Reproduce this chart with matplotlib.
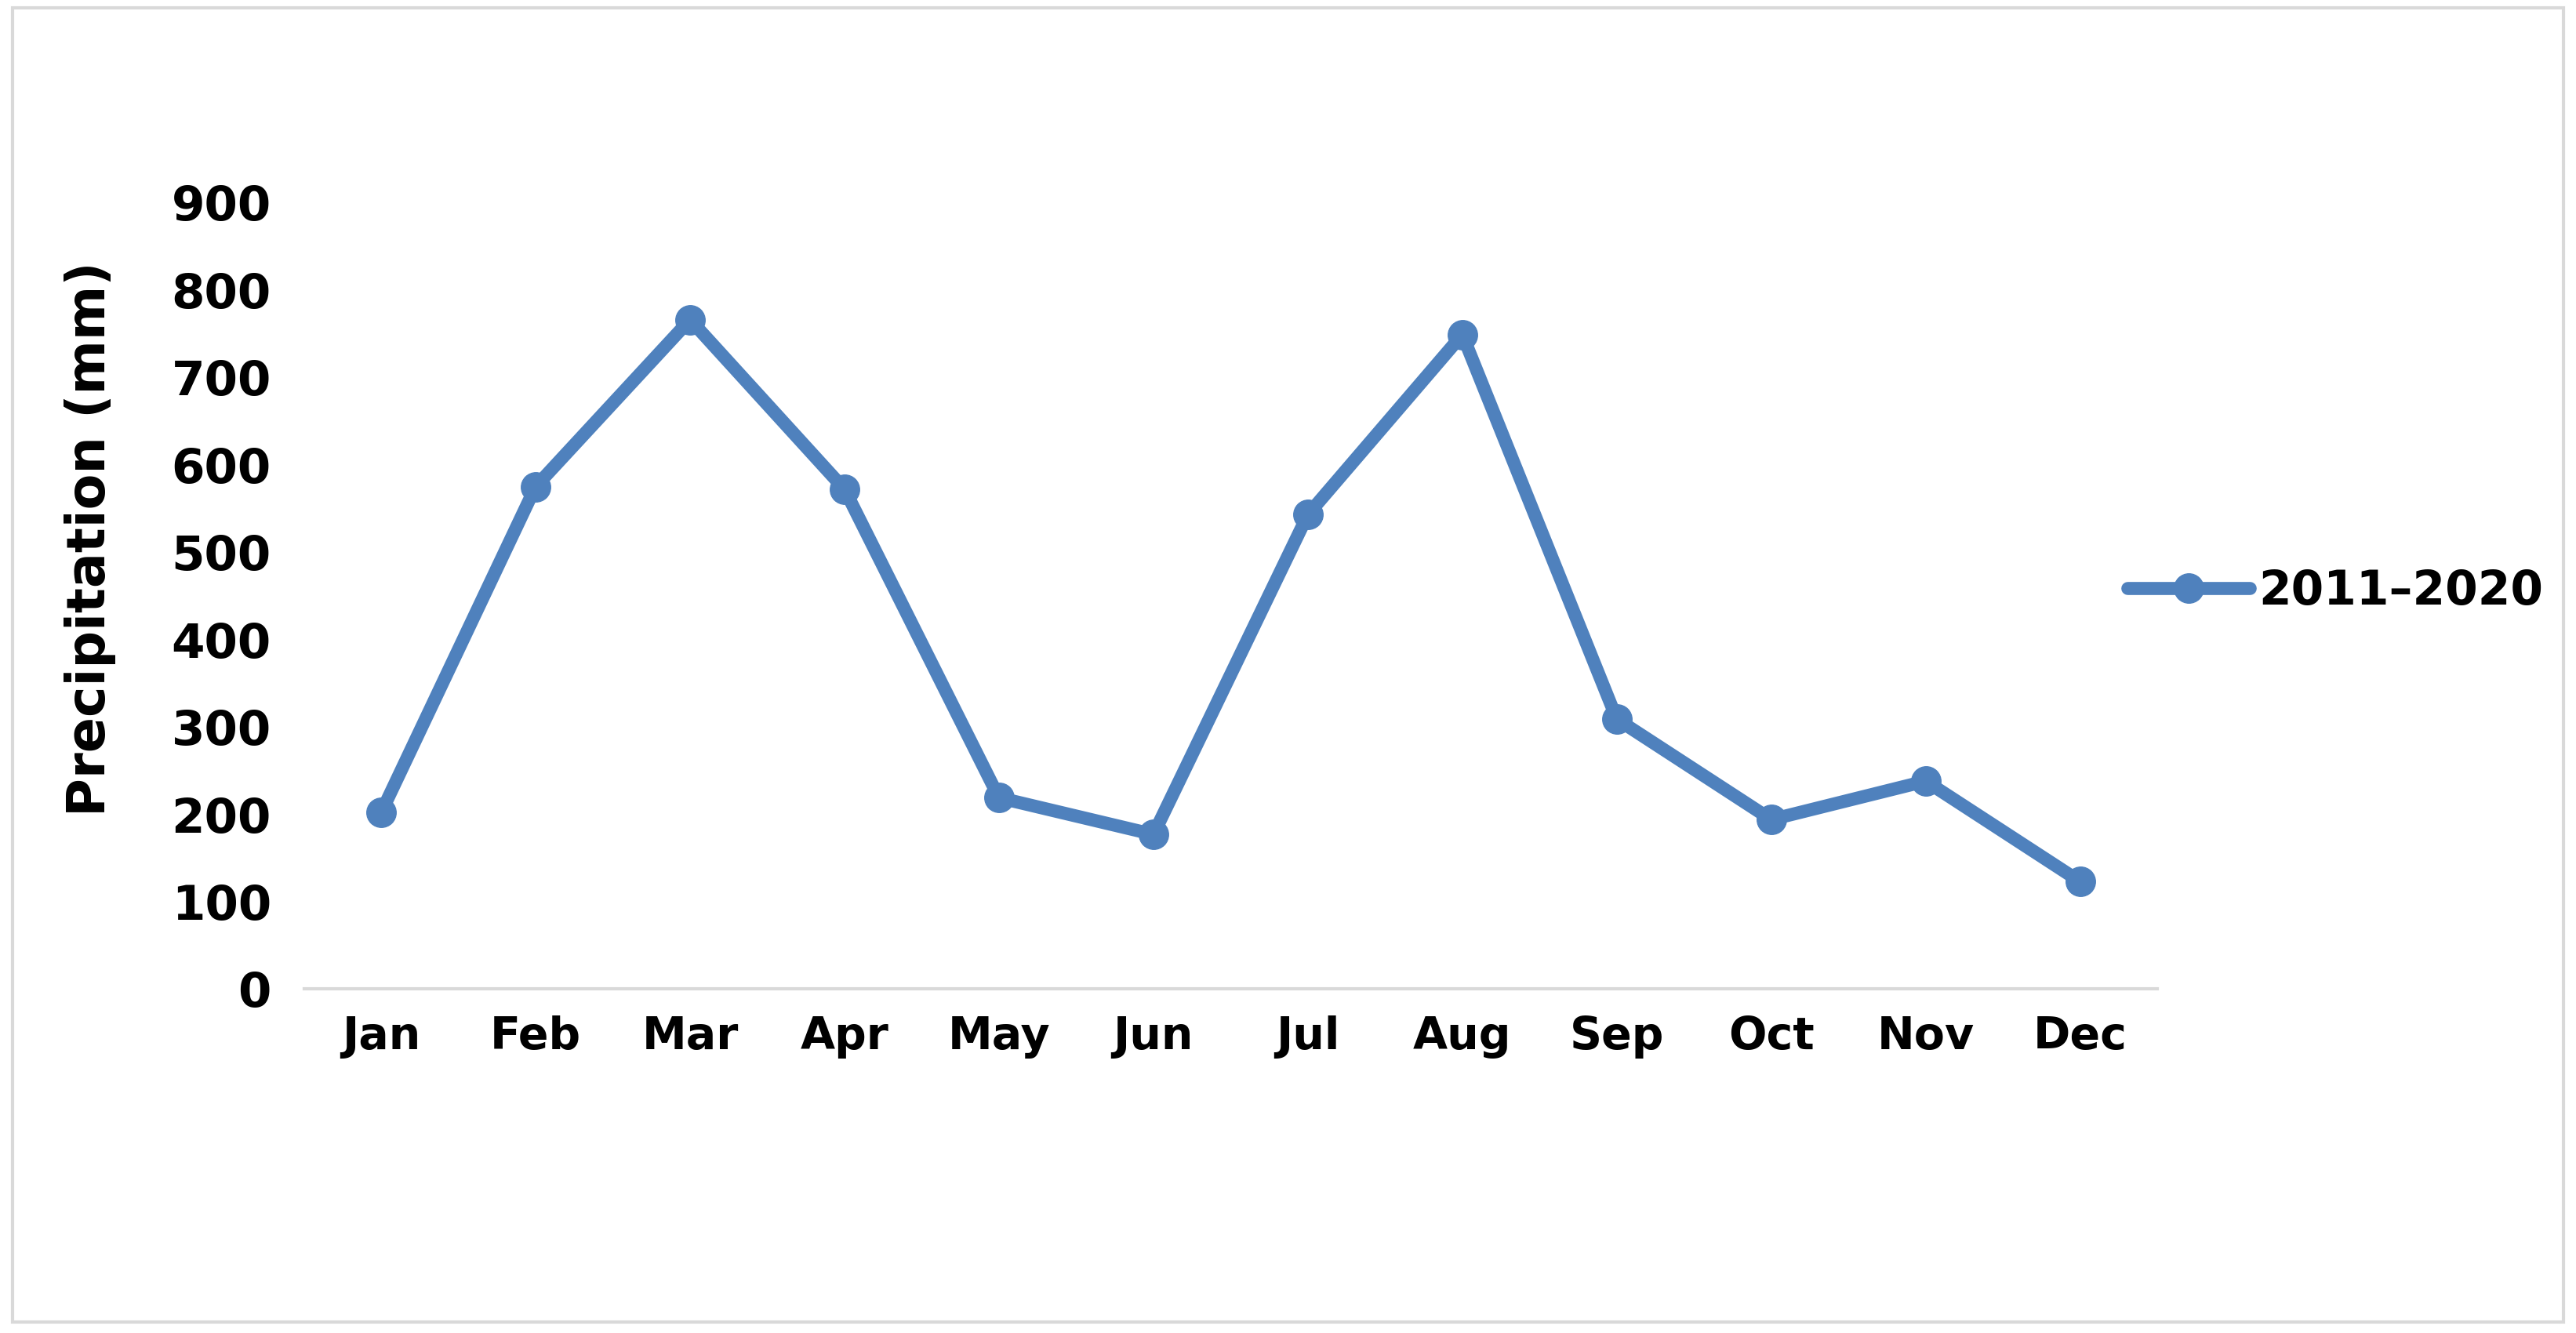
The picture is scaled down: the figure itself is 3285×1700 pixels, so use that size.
import matplotlib.pyplot as plt
from matplotlib.patches import Rectangle

months = ['Jan', 'Feb', 'Mar', 'Apr', 'May', 'Jun',
          'Jul', 'Aug', 'Sep', 'Oct', 'Nov', 'Dec']
precip = [202, 575, 766, 572, 219, 177, 543, 749, 309, 194, 238, 123]
series_name = '2011–2020'
y_ticks = [0, 100, 200, 300, 400, 500, 600, 700, 800, 900]

blue = '#4F81BD'

plt.rcParams['font.family'] = ['DejaVu Sans']
plt.rcParams['font.weight'] = 'bold'

fig = plt.figure(figsize=(32.85, 17), dpi=100)
ax = fig.add_axes([0.118, 0.258, 0.7195, 0.59])

x = list(range(len(months)))
ax.plot(x, precip, color=blue, lw=12, marker='o', ms=27,
        solid_capstyle='round', solid_joinstyle='round', label=series_name)

ax.set_xlim(-0.5, 11.5)
ax.set_ylim(0, 900)
ax.set_yticks(y_ticks)
ax.set_yticklabels([str(v) for v in y_ticks], fontsize=44, fontweight='bold')
ax.set_xticks(x)
ax.set_xticklabels(months, fontsize=41, fontweight='bold')
ax.tick_params(axis='y', length=0, pad=30)
ax.tick_params(axis='x', length=0, pad=24)

for s in ['top', 'right', 'left']:
    ax.spines[s].set_visible(False)
ax.spines['bottom'].set_color('#D9D9D9')
ax.spines['bottom'].set_linewidth(3)

fig.text(0.035, 0.596, 'Precipitation (mm)', rotation=90, ha='center',
         va='center', fontsize=48, fontweight='bold')

fig.legend(loc='center left', bbox_to_anchor=(0.826, 0.556), frameon=False,
           prop={'size': 43, 'weight': 'bold'}, handlelength=2.6,
           handletextpad=0.2, borderpad=0, borderaxespad=0)

# outer frame
fig.patches.append(Rectangle((0.005, 0.008), 0.99, 0.986, transform=fig.transFigure,
                             fill=False, edgecolor='#D9D9D9', lw=3))

fig.savefig('out.png', dpi=100, facecolor='white')
